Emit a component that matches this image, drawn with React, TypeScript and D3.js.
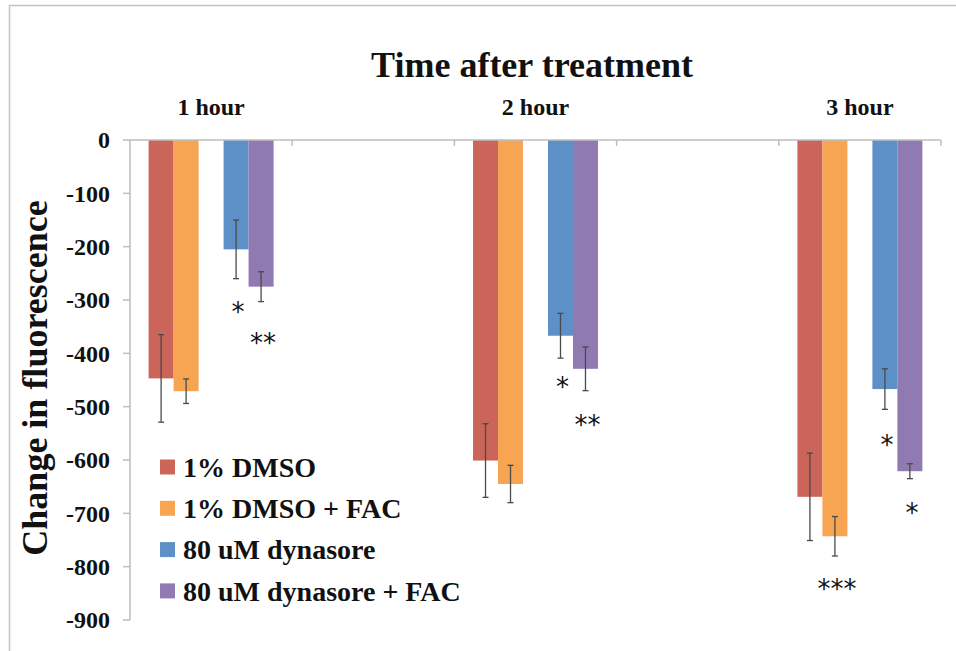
import React, { useEffect } from 'react';
import * as d3 from 'd3';

// time points (blank slots are empty categories between them)
const timeLabels = ['1 hour', '', '2 hour', '', '3 hour'];

const seriesNames = ['1% DMSO', '1% DMSO + FAC', '', '80 uM dynasore', '80 uM dynasore + FAC'];
const seriesColors = ['#CB6559', '#F7A553', 'none', '#5C90C6', '#8F7AB1'];

const dmso = [-447, null, -601, null, -669];
const dmsoFac = [-471, null, -645, null, -743];
const emptySeries = [null, null, null, null, null];
const dynasore = [-205, null, -367, null, -467];
const dynasoreFac = [-275, null, -429, null, -621];

const dmsoErr = [82, null, 69, null, 82];
const dmsoFacErr = [23, null, 35, null, 37];
const emptyErr = [null, null, null, null, null];
const dynasoreErr = [55, null, 42, null, 38];
const dynasoreFacErr = [28, null, 41, null, 14];

const yTicks = [0, -100, -200, -300, -400, -500, -600, -700, -800, -900];

// significance marks: [category index, series index, text, level of the mark]
const stars: [number, number, string, number][] = [
  [0, 3, '*', -313],
  [0, 4, '**', -371],
  [2, 3, '*', -454],
  [2, 4, '**', -525],
  [4, 1, '***', -832],
  [4, 3, '*', -562],
  [4, 4, '*', -690],
];

const W = 956;
const H = 651;
const margin = { top: 140, right: 15, bottom: 31, left: 130 };
const serif = '"Liberation Serif", "Times New Roman", serif';

const App: React.FC = () => {
  useEffect(() => {
    document.body.style.margin = '0';
  }, []);

  const values = [dmso, dmsoFac, emptySeries, dynasore, dynasoreFac];
  const errors = [dmsoErr, dmsoFacErr, emptyErr, dynasoreErr, dynasoreFacErr];

  const x0 = d3
    .scaleBand<string>()
    .domain(timeLabels.map((_, i) => String(i)))
    .range([margin.left, W - margin.right])
    .padding(0);
  const x1 = d3
    .scaleBand<string>()
    .domain(seriesNames.map((_, i) => String(i)))
    .range([0, x0.bandwidth()])
    .paddingInner(0)
    .paddingOuter(0.745);
  const y = d3.scaleLinear().domain([-900, 0]).range([H - margin.bottom, margin.top]);

  const axisColor = '#BEBEBE';
  const legendItems = seriesNames
    .map((name, i) => ({ name, color: seriesColors[i] }))
    .filter(d => d.name !== '');

  const barX = (c: number, s: number) => (x0(String(c)) as number) + (x1(String(s)) as number);
  const bw = x1.bandwidth();

  return (
    <svg width={W} height={H} style={{ display: 'block', background: '#fff' }}>
      {/* outer frame */}
      <rect x={9.5} y={5.5} width={W + 20} height={H + 20} fill="none" stroke="#C4C4C4" strokeWidth={1.5} />

      <text x={532} y={77} textAnchor="middle" fontFamily={serif} fontWeight="bold" fontSize={36} fill="#111">
        Time after treatment
      </text>

      {/* category labels above */}
      {timeLabels.map((t, i) =>
        t ? (
          <text
            key={'c' + i}
            x={(x0(String(i)) as number) + x0.bandwidth() / 2}
            y={115}
            textAnchor="middle"
            fontFamily={serif}
            fontWeight="bold"
            fontSize={24}
            fill="#111"
          >
            {t}
          </text>
        ) : null
      )}

      {/* bars */}
      {values.map((vals, s) =>
        vals.map((v, c) =>
          v == null ? null : (
            <rect
              key={`b${s}-${c}`}
              x={barX(c, s)}
              y={y(0)}
              width={bw}
              height={y(v) - y(0)}
              fill={seriesColors[s]}
            />
          )
        )
      )}

      {/* error bars */}
      {values.map((vals, s) =>
        vals.map((v, c) => {
          const e = errors[s][c];
          if (v == null || e == null) return null;
          const cx = barX(c, s) + bw / 2;
          return (
            <g key={`e${s}-${c}`} stroke="#4A4A4A" strokeWidth={1.3}>
              <line x1={cx} x2={cx} y1={y(v + e)} y2={y(v - e)} />
              <line x1={cx - 3} x2={cx + 3} y1={y(v + e)} y2={y(v + e)} />
              <line x1={cx - 3} x2={cx + 3} y1={y(v - e)} y2={y(v - e)} />
            </g>
          );
        })
      )}

      {/* axes */}
      <line x1={margin.left} x2={margin.left} y1={y(0)} y2={y(-900)} stroke={axisColor} strokeWidth={1.5} />
      <line x1={margin.left} x2={W - margin.right} y1={y(0)} y2={y(0)} stroke={axisColor} strokeWidth={1.5} />
      {timeLabels.map((_, i) => {
        const tx = (x0(String(i)) as number) + x0.bandwidth();
        return <line key={'xt' + i} x1={tx} x2={tx} y1={y(0)} y2={y(0) + 6} stroke={axisColor} strokeWidth={1.5} />;
      })}
      {yTicks.map(t => (
        <g key={'yt' + t}>
          <line x1={margin.left - 7} x2={margin.left} y1={y(t)} y2={y(t)} stroke={axisColor} strokeWidth={1.5} />
          <text
            x={margin.left - 20}
            y={y(t)}
            dy="0.35em"
            textAnchor="end"
            fontFamily={serif}
            fontWeight="bold"
            fontSize={24}
            fill="#111"
          >
            {t}
          </text>
        </g>
      ))}

      <text
        transform={`translate(47, 378) rotate(-90)`}
        textAnchor="middle"
        fontFamily={serif}
        fontWeight="bold"
        fontSize={36}
        fill="#111"
      >
        Change in fluorescence
      </text>

      {/* significance marks */}
      {stars.map(([c, s, txt, lvl], i) => (
        <text
          key={'s' + i}
          x={barX(c, s) + bw / 2 + 2}
          y={y(lvl)}
          dy="0.53em"
          textAnchor="middle"
          fontFamily='"DejaVu Sans", sans-serif'
          fontSize={26}
          fill="#111"
        >
          {txt}
        </text>
      ))}

      {/* legend */}
      {legendItems.map((d, i) => (
        <g key={'l' + i} transform={`translate(160, ${467 + i * 41.3})`}>
          <rect x={0} y={-7.5} width={15} height={15} fill={d.color} />
          <text x={23} y={0} dy="0.35em" fontFamily={serif} fontWeight="bold" fontSize={28} fill="#111">
            {d.name}
          </text>
        </g>
      ))}
    </svg>
  );
};

export default App;
